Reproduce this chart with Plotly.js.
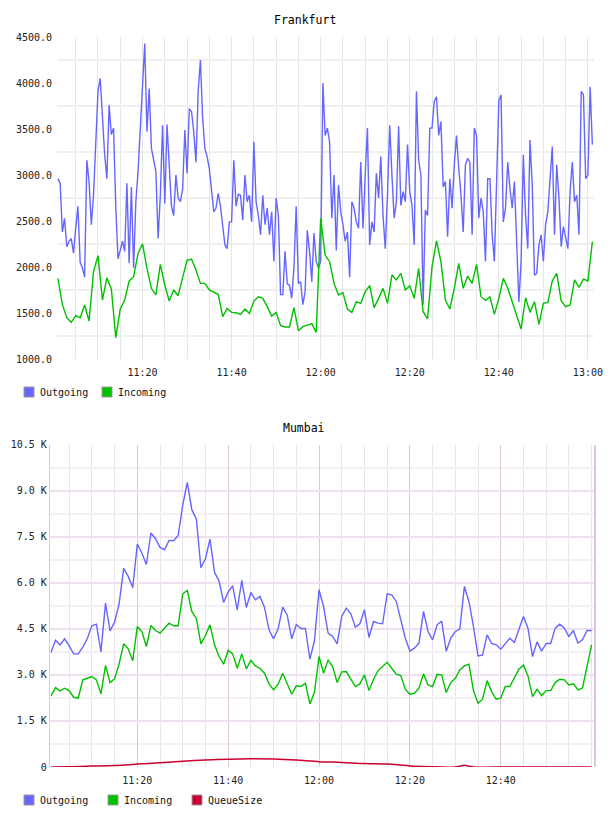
<!DOCTYPE html>
<html>
<head>
<meta charset="utf-8">
<script src="https://cdn.plot.ly/plotly-3.0.1.min.js"></script>
<style>
  html, body { margin: 0; padding: 0; background: #ffffff; }
  #chart { width: 608px; height: 816px; }
</style>
</head>
<body>
<div id="chart"></div>
<script>
// ---- Frankfurt: outgoing sampled every 30 s from 11:01, incoming every minute from 11:01
const fraOutgoing = [
  2960,2910,2380,2530,2220,2280,2310,2150,2420,2660,
  2050,1990,1890,3160,2930,2460,2780,3450,3910,4050,
  3620,3220,2960,3760,3440,3510,2640,2090,2180,2280,
  2170,2910,2040,2870,1990,2710,3040,3470,4010,4430,
  3470,3940,3290,3140,3040,2310,2780,3540,2690,3550,
  3120,2660,2560,3000,2750,2710,2840,3490,3020,3720,
  3690,3470,3140,3910,4250,3620,3290,3200,3070,2820,
  2600,2640,2800,2660,2420,2240,2200,2490,2490,3160,
  2660,2790,2780,2510,3000,2710,2780,2490,3360,2710,
  2560,2350,2780,2460,2640,2350,2600,2060,2750,2560,
  1700,1700,2170,1820,1800,1660,1990,2660,1820,1840,
  1590,1730,2400,2170,1840,2370,2060,1990,2060,4000,
  3430,3510,3360,2530,3000,2180,2890,2600,2460,2280,
  2380,1890,2710,2640,2490,2420,3140,2420,3000,3510,
  2240,2490,2380,3020,2750,3200,2560,2200,2780,3540,
  3000,2530,2710,3530,2670,2820,2710,3330,2820,2670,
  2240,3910,3160,3000,1590,2620,2560,3510,3510,3800,
  3850,3430,3580,2870,2930,2330,2960,2640,3110,3430,
  3070,2780,2380,3110,3180,3140,2350,3510,3430,2530,
  2750,2600,2060,2960,2960,2350,2060,3000,3810,3870,
  2490,2640,3140,2850,2640,2930,2350,1620,2060,3220,
  2560,2200,3380,2890,1910,1930,2240,2350,2060,2460,
  2600,2960,3310,2350,3110,2750,2220,2440,2310,2200,
  2820,3140,2710,2780,2350,3910,3870,2960,3000,3960,
  3330
];
const fraIncoming = [
  1877,1594,1449,1399,1471,1449,1587,1413,1949,2123,
  1641,1884,1761,1232,1543,1641,1848,1895,2148,2253,
  1985,1768,1696,2029,1804,1630,1750,1688,1884,2072,
  2087,1967,1822,1822,1750,1724,1703,1460,1550,1507,
  1503,1485,1543,1496,1630,1677,1659,1569,1467,1507,
  1362,1348,1348,1558,1308,1351,1369,1384,1290,2529,
  2130,2058,1822,1696,1721,1543,1507,1623,1605,1732,1797,
  1558,1659,1768,1605,1913,1859,1931,1750,1797,1659,
  1985,1514,1435,2003,2283,2058,1641,1543,1768,2040,
  1768,1902,1822,2029,1677,1638,1677,1485,1659,1877,
  1768,1623,1478,1326,1666,1507,1623,1377,1605,1616,
  1848,1931,1630,1569,1587,1859,1779,1869,1848,2275
];

// ---- Mumbai: one sample per minute from 11:01 to 13:00
const mumOutgoing = [
  3727,4129,3977,4173,3945,3684,3684,3901,4184,4597,
  4651,3749,5336,4434,4716,5314,6466,6205,5835,7259,
  6966,6596,7618,7433,7150,7074,7378,7368,7542,8520,
  9269,8378,8074,6487,6781,7422,6335,6053,5357,5705,
  5901,5118,6074,5194,5683,5444,5553,5194,4466,4173,
  4499,5205,4944,4173,4640,4510,4510,3510,4118,5770,
  5227,4357,4249,4010,4901,5172,4988,4553,4662,5118,
  4216,4738,4683,4662,5640,5607,5390,4814,4194,3771,
  3868,4031,5064,4412,4140,4629,4748,3771,4194,4412,
  4488,5879,5390,4575,3619,3640,4303,4021,3977,3836,
  4010,4194,4053,4466,4901,4520,3597,4075,3771,4021,
  4021,4520,4651,4520,4249,4444,4031,4140,4444,4444
];
const mumIncoming = [
  2315,2586,2478,2565,2478,2271,2238,2836,2890,2945,
  2836,2380,3303,2749,2869,3358,4010,3847,3456,4575,
  4412,3923,4608,4444,4357,4520,4683,4597,4597,5640,
  5748,5064,4836,4010,4281,4629,3977,3597,3347,3793,
  3684,3216,3684,3195,3477,3293,3216,3053,2706,2510,
  2695,3053,2706,2369,2641,2619,2727,2054,2434,3597,
  3053,3488,3271,2749,3097,3108,2858,2619,2706,2999,
  2488,2858,3140,3271,3412,3216,3021,2977,2532,2369,
  2401,2565,3032,2673,2619,3021,2999,2423,2749,2890,
  3162,3293,3347,2488,2075,2206,2814,2456,2206,2238,
  2619,2619,2890,3184,3314,2967,2293,2532,2325,2488,
  2488,2749,2858,2836,2673,2706,2510,2575,3271,3977
];
const queueTimes = ['11:01','11:05','11:10','11:15','11:20','11:25','11:30','11:35','11:40',
  '11:45','11:50','11:55','12:00','12:05','12:10','12:15','12:20','12:25','12:30',
  '12:32','12:34','12:40','12:50','13:00'];
const queueSize = [0,10,30,50,95,140,190,225,255,270,262,228,175,150,110,95,35,5,0,55,0,0,0,0];

// ---- axis labels
const fraYTicks = [1000,1500,2000,2500,3000,3500,4000,4500];
const mumYTicks = [0,1500,3000,4500,6000,7500,9000,10500];
const mumYText  = ['0','1.5 K','3.0 K','4.5 K','6.0 K','7.5 K','9.0 K','10.5 K'];
const mumXTicks = ['11:20','11:40','12:00','12:20','12:40'];

// ---- helpers
const DAY = '2024-03-12';
const pad = n => String(n).padStart(2, '0');
function clock(minAfter11) {
  const s = Math.round(minAfter11 * 60);
  const h = 11 + Math.floor(s / 3600);
  const m = Math.floor((s % 3600) / 60);
  return `${DAY} ${pad(h)}:${pad(m)}:${pad(s % 60)}`;
}
const sampleTimes = (startMin, stepMin, n) =>
  Array.from({length: n}, (_, i) => clock(startMin + i * stepMin));
const at = hhmm => `${DAY} ${hhmm}:00`;

const W = 608, H = 816;
const fx = px => px / W;
const fy = py => 1 - py / H;

const MONO = 'DejaVu Sans Mono, monospace';
const BLUE = '#6666ff', GREEN = '#00c000', RED = '#cc0033';
const tickFont = {family: MONO, size: 10, color: '#222222'};
const FIVE_MIN = 5 * 60 * 1000;

const traces = [
  {x: sampleTimes(1, 0.5, fraOutgoing.length), y: fraOutgoing, xaxis: 'x', yaxis: 'y',
   type: 'scatter', mode: 'lines', line: {color: BLUE, width: 1.4}},
  {x: sampleTimes(1, 1, fraIncoming.length), y: fraIncoming, xaxis: 'x', yaxis: 'y',
   type: 'scatter', mode: 'lines', line: {color: GREEN, width: 1.4}},
  {x: sampleTimes(1, 1, mumOutgoing.length), y: mumOutgoing, xaxis: 'x2', yaxis: 'y2',
   type: 'scatter', mode: 'lines', line: {color: BLUE, width: 1.4}},
  {x: sampleTimes(1, 1, mumIncoming.length), y: mumIncoming, xaxis: 'x2', yaxis: 'y2',
   type: 'scatter', mode: 'lines', line: {color: GREEN, width: 1.4}},
  {x: queueTimes.map(at), y: queueSize, xaxis: 'x2', yaxis: 'y2',
   type: 'scatter', mode: 'lines', line: {color: RED, width: 1.5, shape: 'spline', smoothing: 0.6}}
];

// legend swatches and captions
function legendItems(yCenter, items) {
  const shapes = [], notes = [];
  items.forEach(([x0, label, color]) => {
    shapes.push({type: 'rect', xref: 'paper', yref: 'paper',
      x0: fx(x0), x1: fx(x0 + 10), y0: fy(yCenter + 5), y1: fy(yCenter - 5),
      fillcolor: color, line: {color: '#999999', width: 1}});
    notes.push({xref: 'paper', yref: 'paper', x: fx(x0 + 14), y: fy(yCenter),
      xanchor: 'left', yanchor: 'middle', showarrow: false, text: label,
      font: {family: MONO, size: 10, color: '#111111'}});
  });
  return {shapes, notes};
}
const legTop = legendItems(392, [[24, 'Outgoing', BLUE], [102, 'Incoming', GREEN]]);
const legBot = legendItems(800, [[24, 'Outgoing', BLUE], [108, 'Incoming', GREEN], [192, 'QueueSize', RED]]);

const layout = {
  width: W, height: H,
  margin: {l: 0, r: 0, t: 0, b: 0},
  paper_bgcolor: '#ffffff', plot_bgcolor: 'rgba(0,0,0,0)',
  showlegend: false,
  font: {family: MONO, size: 10, color: '#222222'},
  xaxis: {
    type: 'date', domain: [fx(57), fx(594)], anchor: 'y',
    range: [clock(0.8), clock(121.37)],
    tickmode: 'linear', tick0: clock(0), dtick: 20 * 60 * 1000, tickformat: '%H:%M',
    showgrid: true, gridcolor: '#e6e6e6', gridwidth: 1,
    minor: {tickmode: 'linear', tick0: clock(0), dtick: FIVE_MIN, showgrid: true, gridcolor: '#e6e6e6', gridwidth: 1},
    zeroline: false, showline: false, ticks: '', tickfont: tickFont, ticklabelstandoff: 6
  },
  yaxis: {
    domain: [fy(359), fy(37)], anchor: 'x',
    range: [1000, 4500],
    tickmode: 'array', tickvals: fraYTicks, tickformat: '.1f',
    showgrid: false,
    minor: {tickmode: 'linear', tick0: 1250, dtick: 500, showgrid: true, gridcolor: '#efefef', gridwidth: 2},
    zeroline: false, showline: false, ticks: '', tickfont: tickFont, ticklabelstandoff: 4
  },
  xaxis2: {
    type: 'date', domain: [fx(50.3), fx(594)], anchor: 'y2',
    range: [clock(0.85), clock(120.53)],
    tickmode: 'array', tickvals: mumXTicks.map(at), ticktext: mumXTicks,
    showgrid: true, gridcolor: '#dcc6dc', gridwidth: 1,
    minor: {tickmode: 'linear', tick0: clock(0), dtick: FIVE_MIN, showgrid: true, gridcolor: '#ebe2eb', gridwidth: 1},
    zeroline: false, showline: false, ticks: '', tickfont: tickFont, ticklabelstandoff: 6
  },
  yaxis2: {
    domain: [fy(767), fy(444.5)], anchor: 'x2',
    range: [0, 10500],
    tickmode: 'array', tickvals: mumYTicks, ticktext: mumYText,
    showgrid: true, gridcolor: '#eee0ee', gridwidth: 2,
    minor: {tickmode: 'linear', tick0: 750, dtick: 1500, showgrid: true, gridcolor: '#f3eff3', gridwidth: 2},
    zeroline: false, showline: true, mirror: true, linecolor: '#dcc8e0', linewidth: 1.5,
    ticks: '', tickfont: tickFont, ticklabelstandoff: 0
  },
  shapes: [...legTop.shapes, ...legBot.shapes],
  annotations: [
    {xref: 'paper', yref: 'paper', x: fx(304.5), y: fy(20), xanchor: 'center', yanchor: 'middle',
     showarrow: false, text: 'Frankfurt', font: {family: MONO, size: 11.5, color: '#000000'}},
    {xref: 'paper', yref: 'paper', x: fx(303.5), y: fy(428), xanchor: 'center', yanchor: 'middle',
     showarrow: false, text: 'Mumbai', font: {family: MONO, size: 11.5, color: '#000000'}},
    ...legTop.notes, ...legBot.notes
  ]
};

Plotly.newPlot('chart', traces, layout, {staticPlot: true, displayModeBar: false});
</script>
</body>
</html>
